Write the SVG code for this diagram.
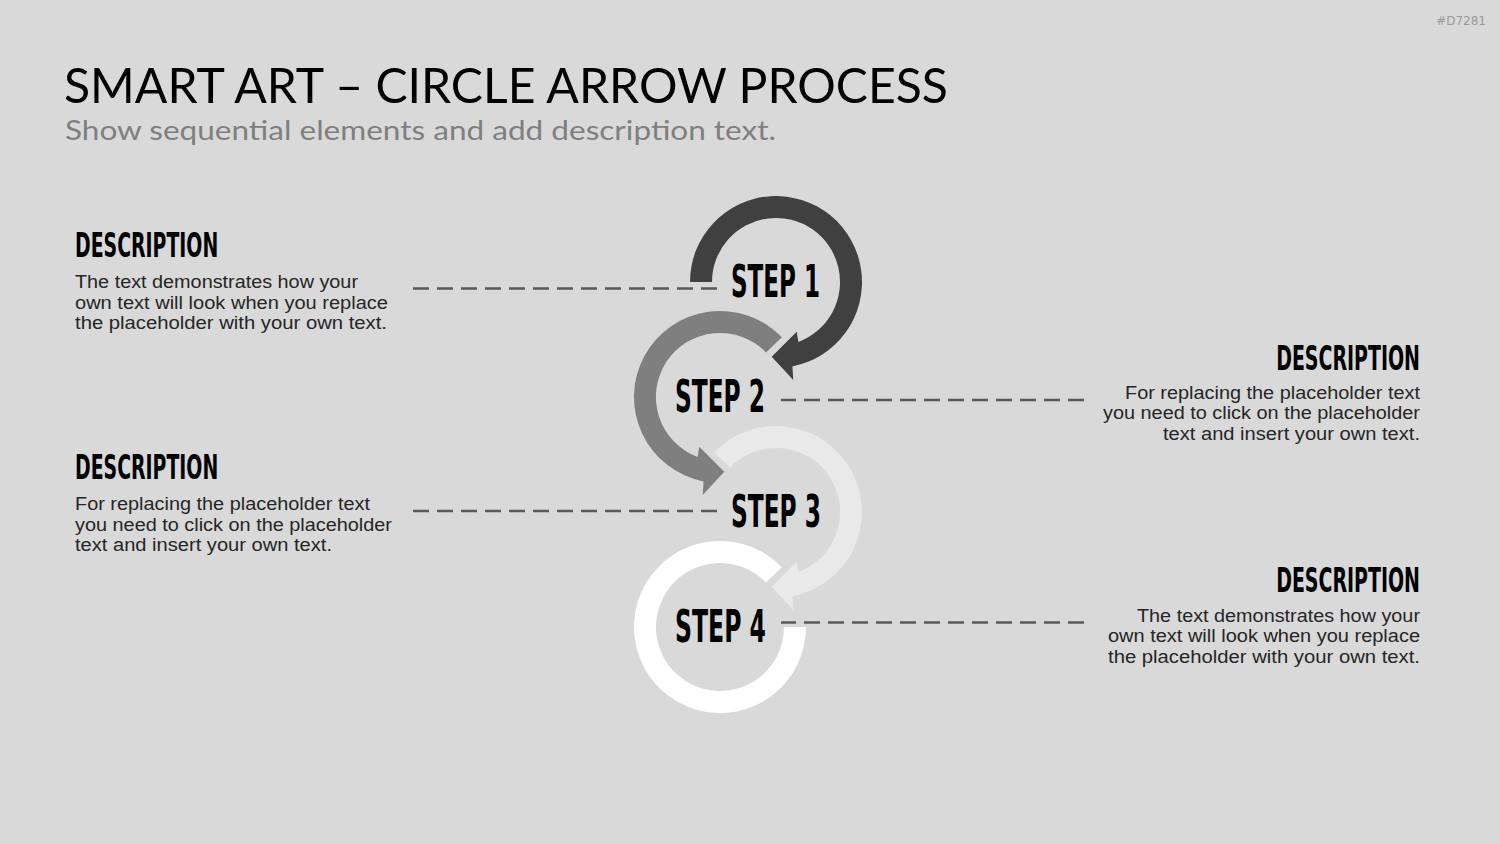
<svg xmlns="http://www.w3.org/2000/svg" width="1500" height="844" viewBox="0 0 1500 844">
<style>
.title{font-family:Lato,"Liberation Sans",sans-serif;font-size:48px;fill:#000}
.sub{font-family:Lato,"Liberation Sans",sans-serif;font-size:26px;fill:#7f7f7f}
.step{font-family:"DejaVu Sans Condensed","DejaVu Sans",sans-serif;font-stretch:condensed;font-weight:bold;font-size:44px;fill:#000}
.head{font-family:"DejaVu Sans Condensed","DejaVu Sans",sans-serif;font-stretch:condensed;font-weight:bold;font-size:34px;fill:#000}
.body{font-family:"Liberation Sans",Arial,sans-serif;font-size:18.3px;fill:#262626}
.r{text-anchor:end}
.dash{stroke:#595959;stroke-width:2.5;stroke-dasharray:16 8;fill:none}
.tag{font-family:"DejaVu Sans",sans-serif;font-size:12px;fill:#9a9a9a}
</style>
<rect width="1500" height="844" fill="#d9d9d9"/>
<text class="tag r" x="1486" y="25">#D7281</text>
<text class="title" x="64" y="103" textLength="884" lengthAdjust="spacingAndGlyphs">SMART ART – CIRCLE ARROW PROCESS</text>
<text class="sub" x="65" y="140" textLength="711" lengthAdjust="spacingAndGlyphs">Show sequential elements and add description text.</text>

<g id="connectors">
<line class="dash" x1="413" y1="288.5" x2="718" y2="288.5"/>
<line class="dash" x1="1084" y1="400" x2="781" y2="400"/>
<line class="dash" x1="413" y1="511" x2="718" y2="511"/>
<line class="dash" x1="1084" y1="622.5" x2="781" y2="622.5"/>
</g>

<g id="step1">
<path fill="#404040" d="M 690 282 A 86 86 0 1 1 792.4 366.4 L 793.3 380 L 771.7 356.7 L 796.7 331.7 L 798.4 341.9 A 64 64 0 1 0 712 282 Z"/>
<text class="step" x="731" y="297" textLength="89" lengthAdjust="spacingAndGlyphs">STEP 1</text>
</g>
<g id="step2">
<path fill="#7f7f7f" d="M 781.9 337.3 A 86 86 0 1 0 703.6 481.4 L 702.7 495 L 724.3 471.7 L 699.3 446.7 L 697.6 456.9 A 64 64 0 1 1 766.0 352.5 Z"/>
<text class="step" x="675" y="412" textLength="90" lengthAdjust="spacingAndGlyphs">STEP 2</text>
</g>
<g id="step3">
<path fill="#e9e9e9" d="M 714.1 452.3 A 86 86 0 1 1 792.4 596.4 L 793.3 610 L 771.7 586.7 L 796.7 561.7 L 798.4 571.9 A 64 64 0 1 0 730.0 467.5 Z"/>
<text class="step" x="731" y="527" textLength="90" lengthAdjust="spacingAndGlyphs">STEP 3</text>
</g>
<g id="step4">
<path fill="#ffffff" d="M 781.9 567.3 A 86 86 0 1 0 806 627 L 784 627 A 64 64 0 1 1 766.0 582.5 Z"/>
<text class="step" x="675" y="642" textLength="91" lengthAdjust="spacingAndGlyphs">STEP 4</text>
</g>

<g id="desc1">
<text class="head" transform="translate(75,257) scale(0.62,1)" textLength="231" lengthAdjust="spacingAndGlyphs">DESCRIPTION</text>
<text class="body"><tspan x="75" y="288" textLength="283" lengthAdjust="spacingAndGlyphs">The text demonstrates how your</tspan><tspan x="75" y="308.5" textLength="313" lengthAdjust="spacingAndGlyphs">own text will look when you replace</tspan><tspan x="75" y="329" textLength="312" lengthAdjust="spacingAndGlyphs">the placeholder with your own text.</tspan></text>
</g>
<g id="desc2">
<text class="head r" transform="translate(1420,370) scale(0.62,1)" textLength="232" lengthAdjust="spacingAndGlyphs">DESCRIPTION</text>
<text class="body r"><tspan x="1420" y="398.5" textLength="295" lengthAdjust="spacingAndGlyphs">For replacing the placeholder text</tspan><tspan x="1420" y="419" textLength="317" lengthAdjust="spacingAndGlyphs">you need to click on the placeholder</tspan><tspan x="1420" y="439.5" textLength="257" lengthAdjust="spacingAndGlyphs">text and insert your own text.</tspan></text>
</g>
<g id="desc3">
<text class="head" transform="translate(75,479) scale(0.62,1)" textLength="231" lengthAdjust="spacingAndGlyphs">DESCRIPTION</text>
<text class="body"><tspan x="75" y="510" textLength="295" lengthAdjust="spacingAndGlyphs">For replacing the placeholder text</tspan><tspan x="75" y="530.5" textLength="317" lengthAdjust="spacingAndGlyphs">you need to click on the placeholder</tspan><tspan x="75" y="551" textLength="257" lengthAdjust="spacingAndGlyphs">text and insert your own text.</tspan></text>
</g>
<g id="desc4">
<text class="head r" transform="translate(1420,592) scale(0.62,1)" textLength="232" lengthAdjust="spacingAndGlyphs">DESCRIPTION</text>
<text class="body r"><tspan x="1420" y="621.5" textLength="283" lengthAdjust="spacingAndGlyphs">The text demonstrates how your</tspan><tspan x="1420" y="642" textLength="312" lengthAdjust="spacingAndGlyphs">own text will look when you replace</tspan><tspan x="1420" y="662.5" textLength="312" lengthAdjust="spacingAndGlyphs">the placeholder with your own text.</tspan></text>
</g>
</svg>
